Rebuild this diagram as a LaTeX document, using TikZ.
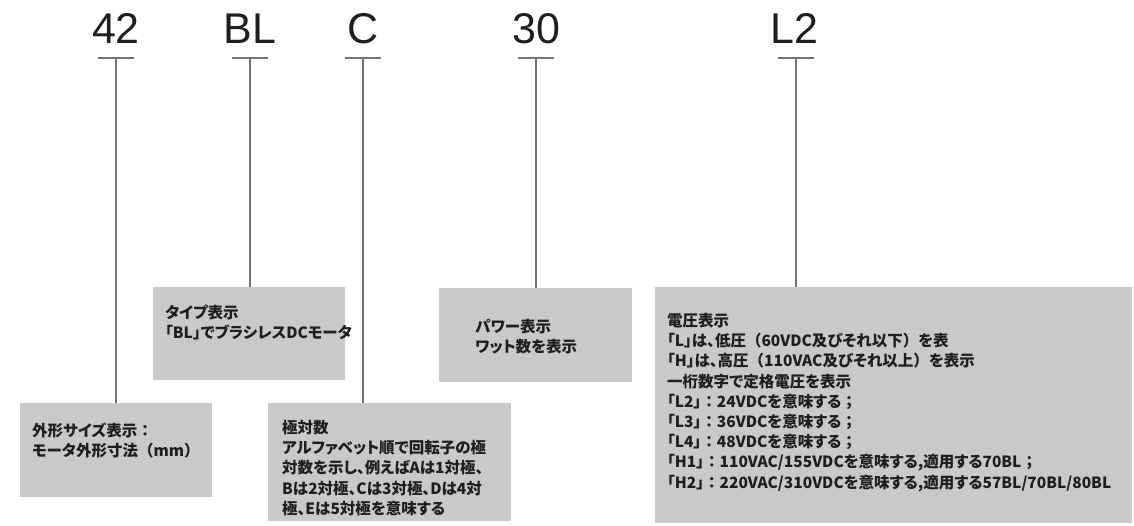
\documentclass[tikz,border=0pt]{standalone}
\usepackage{fontspec}
\setmainfont{Liberation Sans}
\newfontfamily\jp{Noto Sans CJK JP}[RawFeature=+palt]
\newfontfamily\jpf{Noto Sans CJK JP}
\newcommand\zlp{{\jpf\bfseries （}}
\newcommand\zrp{{\jpf\bfseries ）}}
\newcommand\zco{{\jpf\bfseries ：}}
\newcommand\zsc{{\jpf\bfseries ；}}
\definecolor{boxgray}{RGB}{200,202,202}
\definecolor{linegray}{RGB}{115,115,115}
\definecolor{ink}{RGB}{30,30,30}
\begin{document}
\begin{tikzpicture}[x=1pt,y=-1pt,
  head/.style={font=\fontsize{43}{43}\selectfont, text=ink, inner sep=0pt, anchor=base},
  tick/.style={draw=linegray, line width=2pt},
  stem/.style={draw=linegray, line width=1.3pt},
  infobox/.style={fill=boxgray, draw=none, anchor=north west, inner sep=0pt},
  info/.style={font=\jp\bfseries\fontsize{15.5}{20.2}\selectfont, text=ink, align=left, anchor=north west, inner sep=0pt}
]
\useasboundingbox (0,0) rectangle (1134,526);
% boxes
\node[infobox, minimum width=192pt, minimum height=94pt] (b42) at (20,403) {};
\node[infobox, minimum width=192pt, minimum height=93pt] (bBL) at (153,287) {};
\node[infobox, minimum width=243pt, minimum height=118pt] (bC) at (268,403) {};
\node[infobox, minimum width=193pt, minimum height=94pt] (b30) at (439,288) {};
\node[infobox, minimum width=477pt, minimum height=236pt] (bL2) at (655,287) {};
% header labels
\node[head] (h42) at (116,44) {42};
\node[head] (hBL) at (250,44) {BL};
\node[head] (hC) at (363,44) {C};
\node[head] (h30) at (536,44) {30};
\node[head] (hL2) at (794,44) {L2};
% ticks
\foreach \n/\x in {42/116, BL/250, C/363, 30/536, L2/796}{
  \coordinate (t\n) at (\x,58);
  \coordinate (tl\n) at (\x-18,58);
  \coordinate (tr\n) at (\x+18,58);
  \draw[tick] (tl\n) -- (tr\n);
  \draw[stem] (t\n) -- (t\n |- b\n.north);
}
% texts
\node[info] (x42) at (32,423) {外形サイズ表示\zco\\モータ外形寸法\zlp mm\zrp};
\node[info] (xBL) at (165,305) {タイプ表示\\「BL」でブラシレスDCモータ};
\node[info] (xC) at (282,420) {極対数\\アルファベット順で回転子の極\\対数を示し、例えばAは1対極、\\Bは2対極、Cは3対極、Dは4対\\極、Eは5対極を意味する};
\node[info] (x30) at (475,319) {パワー表示\\ワット数を表示};
\node[info] (xL2) at (667,313) {電圧表示\\「L」は、低圧\zlp 60VDC及びそれ以下\zrp を表\\「H」は、高圧\zlp 110VAC及びそれ以上\zrp を表示\\一桁数字で定格電圧を表示\\「L2」\zco 24VDCを意味する\zsc\\「L3」\zco 36VDCを意味する\zsc\\「L4」\zco 48VDCを意味する\zsc\\「H1」\zco 110VAC/155VDCを意味する,適用する70BL\zsc\\「H2」\zco 220VAC/310VDCを意味する,適用する57BL/70BL/80BL};
\end{tikzpicture}
\end{document}
